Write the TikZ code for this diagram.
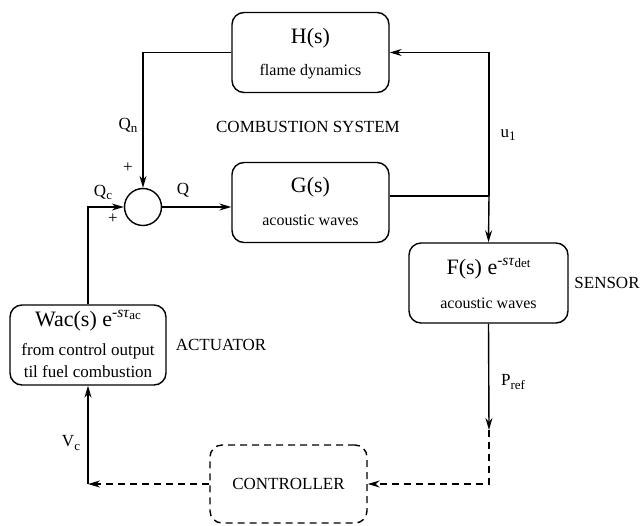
\documentclass[tikz,border=0pt]{standalone}
\usepackage{fontspec}
\setmainfont{Liberation Serif}
\usetikzlibrary{arrows.meta}
\newcommand\bigf{\fontsize{22}{24}\selectfont}
\newcommand\midf{\fontsize{17}{20}\selectfont}
\newcommand\smf{\fontsize{16}{19}\selectfont}
\newcommand\sbs[1]{\raisebox{-0.4ex}{\fontsize{13}{13}\selectfont #1}}
\newcommand\dly[1]{e\raisebox{0.42em}{\fontsize{15.5}{15.5}\selectfont -\textit{sτ}\raisebox{-0.25ex}{\fontsize{13}{13}\selectfont #1}}}
\begin{document}
\begin{tikzpicture}[x=1pt,y=-1pt, line width=1.4pt,
  blk/.style={draw, rounded corners=12pt, minimum width=157pt, minimum height=80pt, inner sep=0pt},
  >={Stealth[length=12pt,width=7pt]},
  dsh/.style={dash pattern=on 7pt off 5pt},
  big/.style={font=\bigf, inner sep=0pt},
  sml/.style={font=\smf, inner sep=0pt},
  lbl/.style={font=\midf, inner sep=0pt}]
\useasboundingbox (0,0) rectangle (644,525);
% blocks
\node[blk] (H) at (310.5,52.5) {};
\node[blk] (G) at (310.5,202.5) {};
\node[blk, minimum width=159pt] (F) at (488.5,283) {};
\node[blk, minimum width=156pt] (W) at (88,345) {};
\node[blk, dsh, minimum height=78pt] (C) at (288.5,484) {\midf CONTROLLER};
\node[draw, circle, minimum size=37pt, inner sep=0pt] (S) at (143,207) {};
% block texts
\node[big] (Ht) at (310.5,38) {H(s)};
\node[sml] (Hs) at (310.5,72) {flame dynamics};
\node[big] (Gt) at (310.5,187) {G(s)};
\node[sml] (Gs) at (310.5,220) {acoustic waves};
\node[big] (Ft) at (488.5,269) {F(s) \dly{det}};
\node[sml] (Fs) at (488.5,303) {acoustic waves};
\node[big] (Wt) at (88,321) {Wac(s) \dly{ac}};
\node[lbl] (Ws1) at (88,351) {from control output};
\node[lbl] (Ws2) at (88,372) {til fuel combustion};
% labels
\node[lbl] (tCS) at (308,127) {COMBUSTION SYSTEM};
\node[lbl] (tQn) at (128,125) {Q\sbs{n}};
\node[lbl] (tp1) at (128,168) {+};
\node[lbl] (tQc) at (103,192) {Q\sbs{c}};
\node[lbl] (tp2) at (113,219) {+};
\node[lbl] (tQ) at (183,190) {Q};
\node[lbl] (tu) at (508,135) {u\sbs{1}};
\node[lbl] (tSen) at (607,283) {SENSOR};
\node[lbl] (tAct) at (221,345) {ACTUATOR};
\node[lbl] (tP) at (513,382) {P\sbs{ref}};
\node[lbl] (tV) at (71,443) {V\sbs{c}};
% connectors
\coordinate (J) at (489,196);
\coordinate (Pa) at (489,430);
\coordinate (Va) at (W.south |- C.west);
\draw (G.east |- J) -- (J);
\draw[->] (J) |- (H.east);
\draw[->] (J) -- (F.north);
\draw[->] (H.west) -| (S.north);
\draw[->] (S.east) -- (S -| G.west);
\draw[->] (W.north) |- (S.west);
\draw[->] (F.south) -- (Pa);
\draw[dsh,->] (Pa) |- (C.east);
\draw[dsh,->] (C.west) -- (Va);
\draw[->] (Va) -- (W.south);
\end{tikzpicture}
\end{document}
